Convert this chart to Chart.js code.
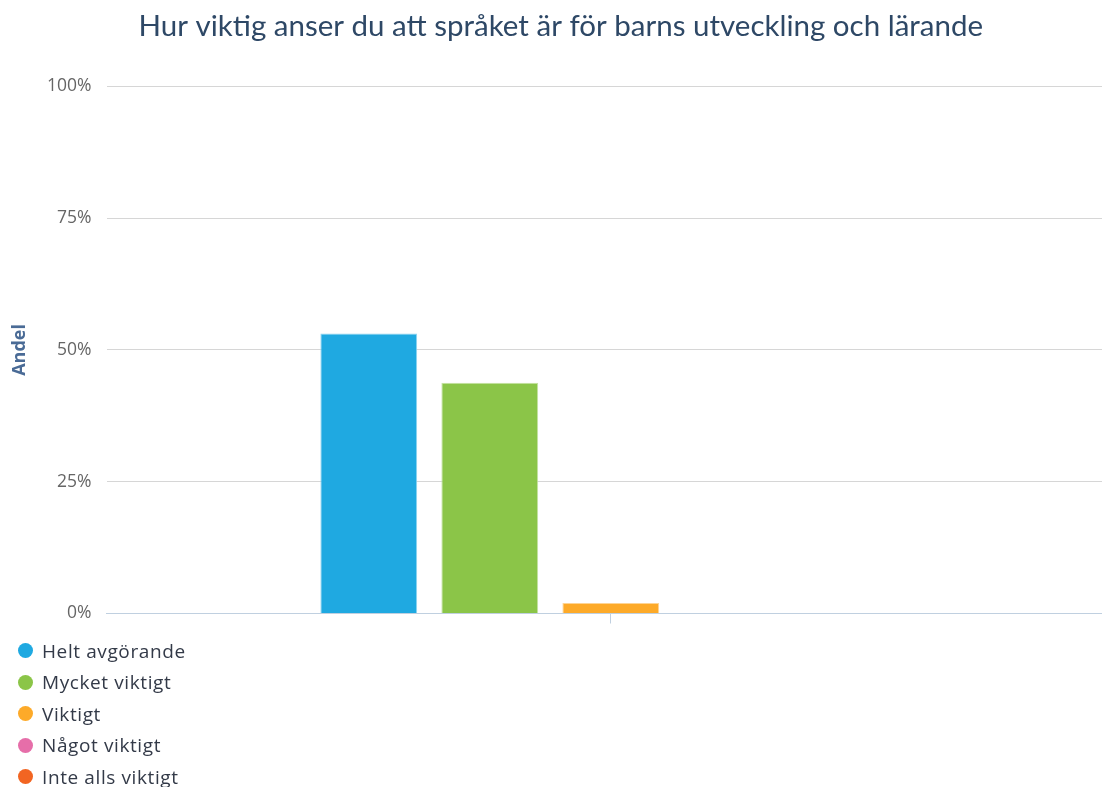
<!DOCTYPE html>
<html>
<head>
<meta charset="utf-8">
<script src="https://cdn.jsdelivr.net/npm/chart.js@4.4.1/dist/chart.umd.min.js"></script>
<style>
  html, body { margin: 0; padding: 0; background: #fff; overflow: hidden; }
  #wrap { position: relative; width: 1102px; height: 787px; overflow: hidden; }
  #chart-box { position: absolute; left: 0; top: 0; width: 1122px; height: 639px; }
  #legend { position: absolute; left: 18px; top: 635px; margin: 0; padding: 0; list-style: none;
            font-family: "Open Sans", sans-serif; font-size: 19px; letter-spacing: 0.6px; color: #333a48; }
  #legend li { height: 31.5px; display: flex; align-items: center; }
  #legend span.dot { width: 15px; height: 15px; border-radius: 50%; display: inline-block; margin-right: 9px; }
</style>
</head>
<body>
<div id="wrap">
  <div id="chart-box"><canvas id="chart"></canvas></div>
  <ul id="legend"></ul>
</div>
<script>
// data
const categories = [''];
const seriesNames = ['Helt avgörande', 'Mycket viktigt', 'Viktigt', 'Något viktigt', 'Inte alls viktigt'];
const seriesValues = [53.1, 43.8, 2.0, 0, 0];
const seriesColors = ['#1fa9e1', '#8bc548', '#fdaa29', '#e66ea9', '#f26522'];
const borderColors = ['#8fd4f0', '#c5e2a3', '#fed494', '#f2b6d4', '#f8b290'];
const yTicks = [0, 25, 50, 75, 100];

const datasets = seriesNames.map((name, i) => ({
  label: name,
  data: [seriesValues[i]],
  backgroundColor: seriesColors[i],
  borderColor: borderColors[i],
  borderWidth: 1,
  barPercentage: 0.8,
  categoryPercentage: 0.6
}));

const chart = new Chart(document.getElementById('chart'), {
  type: 'bar',
  data: { labels: categories, datasets },
  options: {
    responsive: true,
    maintainAspectRatio: false,
    animation: false,
    layout: { padding: { left: 6.5, right: 7, top: 0, bottom: 0 } },
    plugins: {
      legend: { display: false },
      tooltip: { enabled: false },
      title: {
        display: true,
        text: 'Hur viktig anser du att språket är för barns utveckling och lärande',
        color: '#2e4866',
        font: { family: 'Lato', size: 29.5, weight: 'normal' },
        padding: { top: 9, bottom: 42 }
      }
    },
    scales: {
      x: {
        grid: { display: true, offset: false, drawOnChartArea: false, color: '#c0d0e0', tickLength: 10 },
        border: { color: '#c0d0e0' },
        ticks: { display: true, font: { size: 1 } }
      },
      y: {
        min: 0,
        max: 100,
        afterBuildTicks: (axis) => { axis.ticks = yTicks.map(v => ({ value: v })); },
        grid: { color: '#d6d6d6', drawTicks: false },
        border: { display: false },
        ticks: {
          padding: 15,
          color: '#666',
          font: { family: 'Open Sans', size: 17.5 },
          callback: (v) => v + '%'
        },
        title: {
          display: true,
          text: 'Andel',
          color: '#4a6b96',
          font: { family: 'Open Sans', size: 18, weight: 'bold' },
          padding: { top: 3, bottom: 1 }
        }
      }
    }
  }
});

const legend = document.getElementById('legend');
seriesNames.forEach((name, i) => {
  const li = document.createElement('li');
  const dot = document.createElement('span');
  dot.className = 'dot';
  dot.style.background = seriesColors[i];
  li.appendChild(dot);
  li.appendChild(document.createTextNode(name));
  legend.appendChild(li);
});
</script>
</body>
</html>
